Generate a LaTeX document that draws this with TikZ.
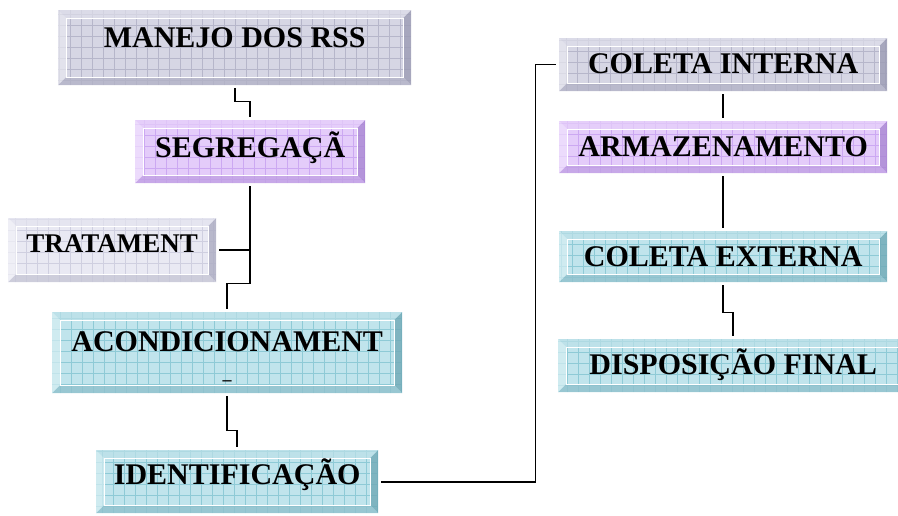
\documentclass[tikz,border=0pt]{standalone}
\usepackage{fontspec}
\setmainfont{Liberation Serif}
\usepackage{tikz}
\usetikzlibrary{calc}
\definecolor{greyface}{HTML}{D6D6E4}
\definecolor{greygrid}{HTML}{B6B6CA}
\definecolor{greylt}{HTML}{E8E8F0}
\definecolor{greytop}{HTML}{DEDEEA}
\definecolor{greyrt}{HTML}{9C9CB4}
\definecolor{greybt}{HTML}{B2B2C6}
\definecolor{paleface}{HTML}{E9E9F3}
\definecolor{palegrid}{HTML}{CFCFE0}
\definecolor{palelt}{HTML}{F2F2F8}
\definecolor{paletop}{HTML}{E4E4EF}
\definecolor{palert}{HTML}{ACACC2}
\definecolor{palebt}{HTML}{C6C6D6}
\definecolor{lilacface}{HTML}{E4CCFA}
\definecolor{lilacgrid}{HTML}{CCA8F2}
\definecolor{lilaclt}{HTML}{F0E2FD}
\definecolor{lilactop}{HTML}{E6D0FA}
\definecolor{lilacrt}{HTML}{A886D2}
\definecolor{lilacbt}{HTML}{C0A0E4}
\definecolor{tealface}{HTML}{C0E4EC}
\definecolor{tealgrid}{HTML}{8ECAD6}
\definecolor{teallt}{HTML}{D6EFF3}
\definecolor{tealtop}{HTML}{BCE0E8}
\definecolor{tealrt}{HTML}{6FA9B6}
\definecolor{tealbt}{HTML}{8EC0CC}
\colorlet{bvface}{greyface}
\colorlet{bvgrid}{greygrid}
\colorlet{bvlt}{greylt}
\colorlet{bvtop}{greytop}
\colorlet{bvrt}{greyrt}
\colorlet{bvbt}{greybt}
\newcommand{\bvtheme}[1]{%
    \colorlet{bvface}{#1face}\colorlet{bvgrid}{#1grid}\colorlet{bvlt}{#1lt}%
    \colorlet{bvtop}{#1top}\colorlet{bvrt}{#1rt}\colorlet{bvbt}{#1bt}}
\tikzstyle{link} = [
    line width=1.6pt,
    draw=black,
    shorten <=3pt,
    shorten >=3pt
]
\tikzstyle{bevelbox} = [
    rectangle,
    anchor=north west,
    inner sep=0pt,
    fill=bvface,
    font=\fontsize{30}{30}\selectfont\bfseries,
    text height=20pt,
    path picture={
        \coordinate (bl) at (path picture bounding box.south west);
        \coordinate (tr) at (path picture bounding box.north east);
        \coordinate (tl) at (bl |- tr);
        \coordinate (br) at (tr |- bl);
        \draw[bvgrid, line width=0.8pt, step=11pt] (bl) grid (tr);
        \fill[bvtop, fill opacity=0.7] (tl) -- (tr) -- ($(tr)+(-8pt,-8pt)$) -- ($(tl)+(8pt,-8pt)$) -- cycle;
        \fill[bvlt, fill opacity=0.7] (tl) -- ($(tl)+(8pt,-8pt)$) -- ($(bl)+(8pt,8pt)$) -- (bl) -- cycle;
        \fill[bvrt, fill opacity=0.8] (tr) -- (br) -- ($(br)+(-8pt,8pt)$) -- ($(tr)+(-8pt,-8pt)$) -- cycle;
        \fill[bvbt, fill opacity=0.8] (bl) -- (br) -- ($(br)+(-8pt,8pt)$) -- ($(bl)+(8pt,8pt)$) -- cycle;
        \draw[white, line width=1pt] ($(bl)+(8pt,8pt)$) rectangle ($(tr)+(-8pt,-8pt)$);
    }
]
\tikzstyle{greybox} = [/utils/exec=\bvtheme{grey}, bevelbox]
\tikzstyle{palebox} = [/utils/exec=\bvtheme{pale}, bevelbox]
\tikzstyle{lilacbox} = [/utils/exec=\bvtheme{lilac}, bevelbox]
\tikzstyle{tealbox} = [/utils/exec=\bvtheme{teal}, bevelbox]

\begin{document}
\begin{tikzpicture}[x=1pt, y=-1pt]
    \useasboundingbox (0,0) rectangle (898,516);
    \clip (0,0) rectangle (898,516);

    % left column
    \node[greybox, minimum width=353pt, minimum height=75pt, text depth=20pt] (manejo) at (58,10) {MANEJO DOS RSS};
    \node[lilacbox, minimum width=230pt, minimum height=63pt, text depth=8pt] (segreg) at (135,120) {SEGREGAÇÃ};
    \node[palebox, minimum width=208pt, minimum height=64pt, text depth=14pt,
        font=\fontsize{27}{27}\selectfont\bfseries, text height=19pt] (tratam) at (8,218) {TRATAMENT};
    \node[tealbox, minimum width=350pt, minimum height=81pt, text depth=22pt] (acond) at (52,312) {ACONDICIONAMENT};
    \node[inner sep=0pt, font=\fontsize{18}{18}\selectfont\bfseries] (acondtail) at (227,383) {–};
    \node[tealbox, minimum width=282pt, minimum height=63pt, text depth=14pt] (ident) at (96,450) {IDENTIFICAÇÃO};

    % right column
    \node[greybox, minimum width=328pt, minimum height=53pt, text depth=3pt] (colint) at (559,38) {COLETA INTERNA};
    \node[lilacbox, minimum width=328pt, minimum height=52pt, text depth=1pt] (armaz) at (559,121) {ARMAZENAMENTO};
    \node[tealbox, minimum width=328pt, minimum height=51pt, text depth=0pt] (colext) at (559,231) {COLETA EXTERNA};
    \node[tealbox, minimum width=350pt, minimum height=53pt, text depth=3pt] (disp) at (558,339) {DISPOSIÇÃO FINAL};

    \draw[link] (manejo.south) -- ++(0,16) -| (segreg.north);
    \draw[link] (segreg.south) -- ++(0,100) -| (acond.north);
    \draw[link, shorten >=0pt] (tratam.east) -- (tratam.east -| segreg.south);
    \draw[link] (acond.south) -- ++(0,37) -| (ident.north);
    \draw[link] (ident.east) -- ++(157,0) |- (colint.west);
    \draw[link] (colint.south) -- (armaz.north);
    \draw[link] (armaz.south) -- (colext.north);
    \draw[link] (colext.south) -- ++(0,30) -| (disp.north);
\end{tikzpicture}
\end{document}
